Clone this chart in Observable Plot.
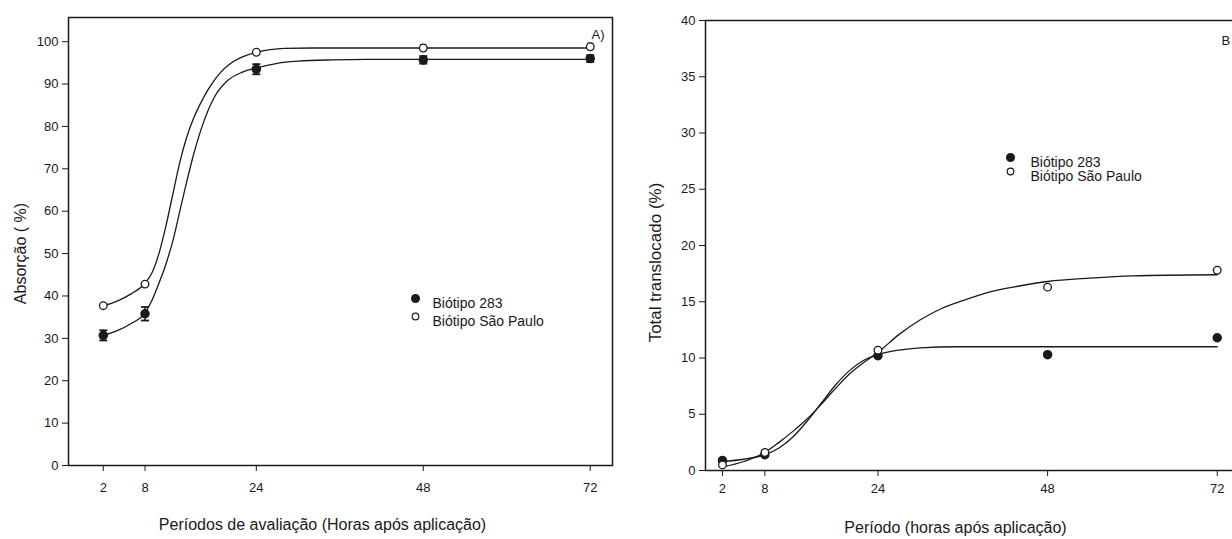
<!DOCTYPE html>
<html>
<head>
<meta charset="utf-8">
<script src="https://cdn.jsdelivr.net/npm/d3@7"></script>
<script src="https://cdn.jsdelivr.net/npm/@observablehq/plot@0.6"></script>
<style>
  html, body { margin: 0; padding: 0; background: #fff; }
  #wrap { position: relative; width: 1232px; height: 539px; overflow: hidden; background: #fff; }
  #left { position: absolute; left: 0; top: 0; width: 640px; height: 539px; }
  #right { position: absolute; left: 640px; top: 0; width: 640px; height: 539px; }
  #wrap svg { max-width: none !important; }
</style>
</head>
<body>
<div id="wrap"><div id="left"></div><div id="right"></div></div>
<script>
// ---------- data ----------
const hours = [2, 8, 24, 48, 72];
const seriesNames = ["Biótipo 283", "Biótipo São Paulo"];

// Panel A: absorption (%)
const absorb283 = [30.7, 35.8, 93.5, 95.7, 96.0];
const absorb283Err = [1.2, 1.6, 1.2, 0.9, 0.8];
const absorbSP = [37.7, 42.8, 97.5, 98.5, 98.8];
const absorbSPErr = [0.3, 0.3, 0.5, 0.8, 0.8];
// fitted curves
const fitHoursA283 = [2, 4, 6, 8, 9, 10, 11, 12, 13, 14, 15, 16, 17, 18, 20, 22, 24, 27, 30, 35, 40, 72];
const fitA283 = [30.7, 31.8, 33.5, 36.0, 39.0, 43.0, 47.5, 53.0, 60.0, 67.0, 73.5, 79.0, 83.5, 87.0, 91.0, 92.8, 93.8, 94.9, 95.4, 95.7, 95.8, 95.8];
const fitHoursASP = [2, 4, 6, 8, 9, 10, 11, 12, 13, 14, 15, 16, 17, 18, 19, 20, 22, 24, 26, 28, 32, 72];
const fitASP = [37.7, 38.8, 40.5, 43.0, 45.5, 50.0, 56.5, 64.0, 71.5, 77.5, 82.0, 85.5, 88.5, 91.0, 93.0, 94.5, 96.4, 97.5, 98.1, 98.4, 98.5, 98.5];

// Panel B: total translocated (%)
const transl283 = [0.9, 1.4, 10.2, 10.3, 11.8];
const translSP = [0.5, 1.6, 10.7, 16.3, 17.8];
const fitHoursB283 = [2, 5, 8, 10, 12, 14, 16, 18, 20, 22, 24, 27, 30, 35, 72];
const fitB283 = [0.8, 1.0, 1.4, 2.0, 3.0, 4.4, 6.0, 7.6, 8.9, 9.8, 10.3, 10.7, 10.9, 11.0, 11.0];
const fitHoursBSP = [2, 5, 8, 10, 12, 14, 16, 18, 20, 22, 24, 27, 30, 33, 36, 40, 44, 48, 54, 60, 72];
const fitBSP = [0.3, 0.8, 1.6, 2.5, 3.5, 4.6, 5.9, 7.3, 8.6, 9.6, 10.5, 12.1, 13.4, 14.4, 15.1, 15.9, 16.4, 16.8, 17.1, 17.3, 17.4];

const yTicksA = [0, 10, 20, 30, 40, 50, 60, 70, 80, 90, 100];
const yTicksB = [0, 5, 10, 15, 20, 25, 30, 35, 40];

const titleA_x = "Períodos de avaliação (Horas após aplicação)";
const titleA_y = "Absorção ( %)";
const titleB_x = "Período (horas após aplicação)";
const titleB_y = "Total translocado (%)";
const panelA = "A)";
const panelB = "B";

// ---------- helpers ----------
const pts = (xs, ys, extra = {}) => xs.map((x, i) => ({x, y: ys[i], ...Object.fromEntries(Object.entries(extra).map(([k, v]) => [k, v[i]]))}));
const capSymbol = { draw(ctx, size) { const r = Math.sqrt(size / Math.PI); ctx.moveTo(-r, 0); ctx.lineTo(r, 0); } };
const FONT = "'Liberation Sans', Arial, sans-serif";
const INK = "#1a1a1a";
const baseStyle = {fontFamily: FONT, fontSize: "13px", color: INK, background: "transparent", maxWidth: "none"};

// ---------- Panel A ----------
const a283 = pts(hours, absorb283, {e: absorb283Err});
const aSP = pts(hours, absorbSP, {e: absorbSPErr});

const left = Plot.plot({
  width: 640, height: 539,
  marginLeft: 68, marginRight: 28, marginTop: 17, marginBottom: 74,
  style: baseStyle,
  x: {domain: [-3, 75.2]},
  y: {domain: [0, 105.7]},
  marks: [
    Plot.frame({stroke: INK, strokeWidth: 1.5}),
    Plot.axisX({ticks: hours, tickSize: 6, tickPadding: 11, label: null, fontSize: 13}),
    Plot.axisY({ticks: yTicksA, tickSize: 6, tickPadding: 4, label: null, fontSize: 13}),
    Plot.line(pts(fitHoursA283, fitA283), {x: "x", y: "y", curve: "monotone-x", stroke: INK, strokeWidth: 1.3}),
    Plot.line(pts(fitHoursASP, fitASP), {x: "x", y: "y", curve: "monotone-x", stroke: INK, strokeWidth: 1.3}),
    // error bars
    Plot.ruleX(a283, {x: "x", y1: d => d.y - d.e, y2: d => d.y + d.e, stroke: INK, strokeWidth: 1.5}),
    Plot.dot(a283, {x: "x", y: d => d.y - d.e, symbol: capSymbol, r: 4, stroke: INK, strokeWidth: 1.8}),
    Plot.dot(a283, {x: "x", y: d => d.y + d.e, symbol: capSymbol, r: 4, stroke: INK, strokeWidth: 1.8}),
    Plot.ruleX(aSP, {x: "x", y1: d => d.y - d.e, y2: d => d.y + d.e, stroke: INK, strokeWidth: 1.2}),
    Plot.dot(aSP, {x: "x", y: d => d.y + d.e, symbol: capSymbol, r: 3, stroke: INK, strokeWidth: 1.2}),
    Plot.dot(a283, {x: "x", y: "y", r: 4, fill: INK, stroke: INK}),
    Plot.dot(aSP, {x: "x", y: "y", r: 3.8, fill: "white", stroke: INK, strokeWidth: 1.3}),
    // legend
    Plot.dot([seriesNames[0]], {frameAnchor: "top-left", dx: 347, dy: 281, r: 3.8, fill: INK, stroke: INK}),
    Plot.dot([seriesNames[1]], {frameAnchor: "top-left", dx: 347, dy: 299, r: 3.3, fill: "white", stroke: INK, strokeWidth: 1.2}),
    Plot.text([seriesNames[0]], {text: d => d, frameAnchor: "top-left", dx: 364, dy: 281, textAnchor: "start", fontSize: 14, fill: INK}),
    Plot.text([seriesNames[1]], {text: d => d, frameAnchor: "top-left", dx: 364, dy: 299, textAnchor: "start", fontSize: 14, fill: INK}),
    // titles
    Plot.text([panelA], {text: d => d, frameAnchor: "top-right", dx: -8, dy: 12, fontSize: 13, fill: INK}),
    Plot.text([titleA_x], {text: d => d, frameAnchor: "bottom", dx: -18, dy: 64, fontSize: 16, fill: INK}),
    Plot.text([titleA_y], {text: d => d, frameAnchor: "left", textAnchor: "middle", dx: -48, dy: 12, rotate: -90, fontSize: 16, fill: INK})
  ]
});
document.getElementById("left").appendChild(left);

// ---------- Panel B ----------
const b283 = pts(hours, transl283);
const bSP = pts(hours, translSP);

const right = Plot.plot({
  width: 640, height: 539,
  marginLeft: 65, marginRight: 35, marginTop: 20, marginBottom: 69,
  style: baseStyle,
  x: {domain: [-0.4, 76]},
  y: {domain: [0, 40]},
  marks: [
    Plot.frame({stroke: INK, strokeWidth: 1.5}),
    Plot.axisX({ticks: hours, tickSize: 6, tickPadding: 7, label: null, fontSize: 13}),
    Plot.axisY({ticks: yTicksB, tickSize: 6, tickPadding: 4, label: null, fontSize: 13}),
    Plot.line(pts(fitHoursB283, fitB283), {x: "x", y: "y", curve: "monotone-x", stroke: INK, strokeWidth: 1.3}),
    Plot.line(pts(fitHoursBSP, fitBSP), {x: "x", y: "y", curve: "monotone-x", stroke: INK, strokeWidth: 1.3}),
    Plot.dot(b283, {x: "x", y: "y", r: 4, fill: INK, stroke: INK}),
    Plot.dot(bSP, {x: "x", y: "y", r: 3.8, fill: "white", stroke: INK, strokeWidth: 1.3}),
    // legend
    Plot.dot([seriesNames[0]], {frameAnchor: "top-left", dx: 305, dy: 137, r: 3.8, fill: INK, stroke: INK}),
    Plot.dot([seriesNames[1]], {frameAnchor: "top-left", dx: 305, dy: 151, r: 3.3, fill: "white", stroke: INK, strokeWidth: 1.2}),
    Plot.text([seriesNames[0]], {text: d => d, frameAnchor: "top-left", dx: 325, dy: 137, textAnchor: "start", fontSize: 14, fill: INK}),
    Plot.text([seriesNames[1]], {text: d => d, frameAnchor: "top-left", dx: 325, dy: 151, textAnchor: "start", fontSize: 14, fill: INK}),
    // titles
    Plot.text([panelB], {text: d => d, frameAnchor: "top-right", dx: -24, dy: 15, textAnchor: "start", fontSize: 13, fill: INK}),
    Plot.text([titleB_x], {text: d => d, frameAnchor: "bottom", dy: 62, dx: -20, fontSize: 16, fill: INK}),
    Plot.text([titleB_y], {text: d => d, frameAnchor: "left", textAnchor: "middle", dx: -50, dy: 17, rotate: -90, fontSize: 17, fill: INK})
  ]
});
document.getElementById("right").appendChild(right);
</script>
</body>
</html>
